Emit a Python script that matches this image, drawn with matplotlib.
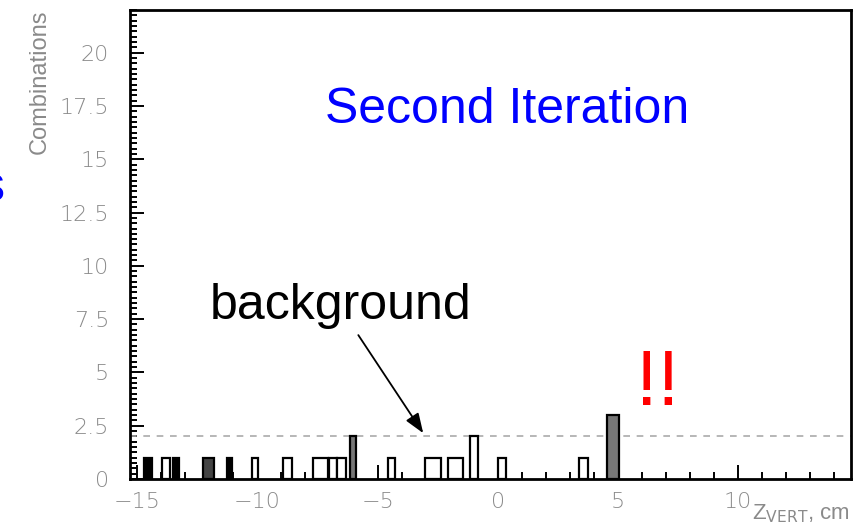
import matplotlib
matplotlib.use("Agg")
import matplotlib.pyplot as plt
from matplotlib.ticker import MultipleLocator

# histogram boxes: left edge, right edge, combinations
bin_lo = [-14.70, -13.95, -13.52, -12.25, -11.25, -10.23, -8.93, -7.67, -7.04, -6.67,
          -6.15, -4.58, -3.02, -2.08, -1.15, 0.02, 3.40, 4.53]
bin_hi = [-14.40, -13.65, -13.25, -11.80, -11.05, -9.98, -8.56, -7.06, -6.70, -6.32,
          -5.90, -4.26, -2.37, -1.45, -0.84, 0.35, 3.77, 5.05]
counts = [1, 1, 1, 1, 1, 1, 1, 1, 1, 1, 2, 1, 1, 1, 2, 1, 1, 3]

bg_level = 2.0
x_range = (-15.3, 14.7)
y_range = (0, 22)

# fill look per box (dark ones are the narrow ones that print solid)
fills = ['black', 'white', 'black', '#444444', 'black', 'white', 'white', 'white', 'white',
         'white', '#777777', 'white', 'white', 'white', 'white', 'white', 'white', '#777777']

plt.rcParams['font.family'] = ['Liberation Sans', 'DejaVu Sans']
grey = '#8a8a8a'

fig = plt.figure(figsize=(8.55, 5.26), dpi=100)
ax = fig.add_axes([130 / 855, 1 - 479 / 526, 721 / 855, 469 / 526])

for lo, hi, c, fc in zip(bin_lo, bin_hi, counts, fills):
    ax.bar(lo, c, width=hi - lo, align='edge', facecolor=fc,
           edgecolor='black', linewidth=1.6, zorder=3)

# background level
ax.axhline(bg_level, color='#aaaaaa', linestyle=(0, (4, 4)), linewidth=1.2, zorder=2)

ax.set_xlim(*x_range)
ax.set_ylim(*y_range)

ax.xaxis.set_major_locator(MultipleLocator(5))
ax.xaxis.set_minor_locator(MultipleLocator(1))
ax.yaxis.set_major_locator(MultipleLocator(2.5))
ax.yaxis.set_minor_locator(MultipleLocator(0.25))
ax.yaxis.set_major_formatter(plt.FuncFormatter(lambda v, p: ('%g' % v)))

ax.tick_params(axis='both', which='both', direction='in', color='black', width=1.4)
ax.tick_params(axis='both', which='major', length=10, labelsize=16, labelcolor=grey)
ax.tick_params(axis='both', which='minor', length=5)
ax.tick_params(axis='x', which='major', pad=9)
ax.tick_params(axis='y', which='major', pad=15)
for lab in ax.get_xticklabels() + ax.get_yticklabels():
    lab.set_family('DejaVu Sans')
    lab.set_fontweight('light')

for sp in ax.spines.values():
    sp.set_linewidth(2)
    sp.set_color('black')

ax.set_ylabel('Combinations', fontsize=17, color=grey)
ax.yaxis.set_label_coords(-0.125, 1.0)
ax.yaxis.label.set_verticalalignment('center')
ax.yaxis.label.set_horizontalalignment('right')

fig.text(850 / 855, 1 - 514 / 526, r'Z$_{\mathrm{VERT}}$, cm', fontsize=16, color=grey,
         ha='right', va='center')

# annotations
ax.text(0.4, 17.3, 'Second Iteration', fontsize=36, color='#0000ff',
        ha='center', va='center', zorder=4)
ax.text(-12.0, 8.1, 'background', fontsize=36, color='black',
        ha='left', va='center', zorder=4)
ax.annotate('', xy=(-3.1, 2.15), xytext=(-5.8, 6.75),
            arrowprops=dict(arrowstyle='-|>,head_length=1.2,head_width=0.45',
                            color='black', lw=1.3, shrinkA=0, shrinkB=0), zorder=4)
ax.text(6.65, 4.45, '!!', fontsize=56, color='#ff0000',
        ha='center', va='center', zorder=4)

# bit of slide text cut off at the left edge
fig.text(-0.024, 1 - 188 / 526, 's', fontsize=36, color='#0000ff', ha='left', va='center')

fig.savefig('out.png', dpi=100)
